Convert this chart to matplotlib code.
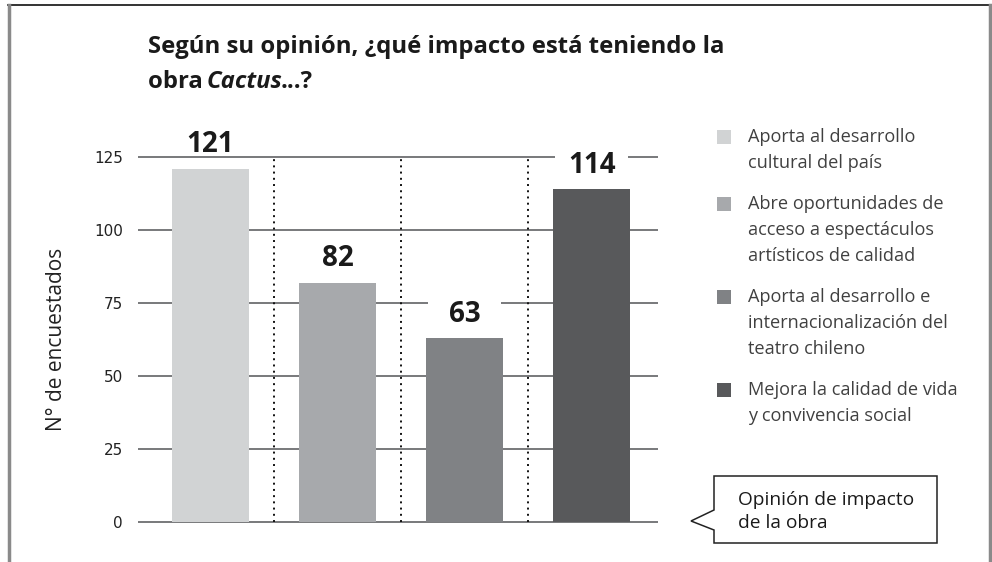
import matplotlib.pyplot as plt
from matplotlib.patches import Rectangle, Polygon
from matplotlib.transforms import offset_copy

# datos
categorias = [
    "Aporta al desarrollo\ncultural del país",
    "Abre oportunidades de\nacceso a espectáculos\nartísticos de calidad",
    "Aporta al desarrollo e\ninternacionalización del\nteatro chileno",
    "Mejora la calidad de vida\ny convivencia social",
]
valores = [121, 82, 63, 114]
colores = ["#d1d3d4", "#a7a9ac", "#808285", "#58595b"]
yticks = [0, 25, 50, 75, 100, 125]

W, H = 992, 562
FONT = ["Open Sans", "DejaVu Sans"]
NARROW = ["Liberation Sans Narrow", "DejaVu Sans"]

fig = plt.figure(figsize=(W / 100, H / 100), dpi=100)

# capa de dibujo en pixeles (marco, leyenda, globo)
ov = fig.add_axes([0, 0, 1, 1])
ov.set_xlim(0, W)
ov.set_ylim(H, 0)
ov.axis("off")

# marco exterior
ov.plot([8, 990], [5, 5], color="#111111", lw=1.2)
ov.plot([8.5, 8.5], [5, H], color="#8a8a8a", lw=2.5)
ov.plot([990, 990], [5, H], color="#8a8a8a", lw=2.5)

# titulo
ov.text(148, 53, "Según su opinión, ¿qué impacto está teniendo la",
        family=FONT, weight="bold", fontsize=17.2, color="#1a1a1a", va="baseline")
r = fig.canvas.get_renderer()
x = 148
for txt, st in [("obra ", "normal"), ("Cactus", "italic"), ("...?", "normal")]:
    t = ov.text(x, 88, txt, family=FONT, weight="bold", style=st,
                fontsize=17.2, color="#1a1a1a", va="baseline")
    bb = t.get_window_extent(r)
    x += bb.width - 2

# eje principal
ax = fig.add_axes([138 / W, 1 - 522 / H, 520 / W, 365 / H])
ax.set_facecolor("none")
pos = list(range(len(valores)))
ax.set_xlim(-0.571, 3.523)
ax.set_ylim(0, 125)

ax.hlines(yticks, -0.571, 3.523, color="#6d6e71", lw=1.3, zorder=1, clip_on=False)
ax.vlines([p + 0.5 for p in pos[:-1]], 0, 125, color="#111111", lw=1.4,
          linestyles=(0, (1, 2.2)), zorder=1, clip_on=False)
ax.bar(pos, valores, width=0.606, color=colores, zorder=2)

for p, v in zip(pos, valores):
    tr = offset_copy(ax.transData, fig=fig, x=0, y=10.5, units="points")
    ax.add_patch(Rectangle((p - 0.29, v), 0.58, 9.0, transform=tr,
                           facecolor="white", edgecolor="none", zorder=3, clip_on=False))
    ax.annotate(str(v), (p, v), xytext=(0, 11.8), textcoords="offset points",
                ha="center", va="baseline", family=FONT, weight="bold",
                fontsize=20, color="#1a1a1a", zorder=4)

ax.set_yticks(yticks)
ax.set_yticklabels([str(t) for t in yticks], family=NARROW, fontsize=11, color="#222222")
ax.tick_params(axis="y", length=0, pad=11)
ax.set_xticks([])
for s in ax.spines.values():
    s.set_visible(False)

fig.text(57 / W, 1 - 339 / H, "N° de encuestados", rotation=90, family=FONT,
         fontsize=15, color="#222222", ha="center", va="center")

# leyenda
y0 = 137
for lab, c in zip(categorias, colores):
    ov.add_patch(Rectangle((717, y0 - 7), 14, 14, facecolor=c, edgecolor="none"))
    lineas = lab.split("\n")
    for k, ln in enumerate(lineas):
        ov.text(748, y0 + k * 26, ln, family=FONT, fontsize=13.1,
                color="#404040", va="center")
    y0 += (len(lineas) - 1) * 26 + 41

# globo de texto
ov.add_patch(Polygon([(714, 476), (937, 476), (937, 543), (714, 543),
                      (714, 530), (691, 521), (714, 510)],
                     closed=True, facecolor="white", edgecolor="#222222", lw=1.1))
ov.text(738, 505, "Opinión de impacto", family=FONT, fontsize=13.8,
        color="#1a1a1a", va="baseline")
ov.text(738, 528, "de la obra", family=FONT, fontsize=13.8,
        color="#1a1a1a", va="baseline")

fig.savefig("out.png", dpi=100)
